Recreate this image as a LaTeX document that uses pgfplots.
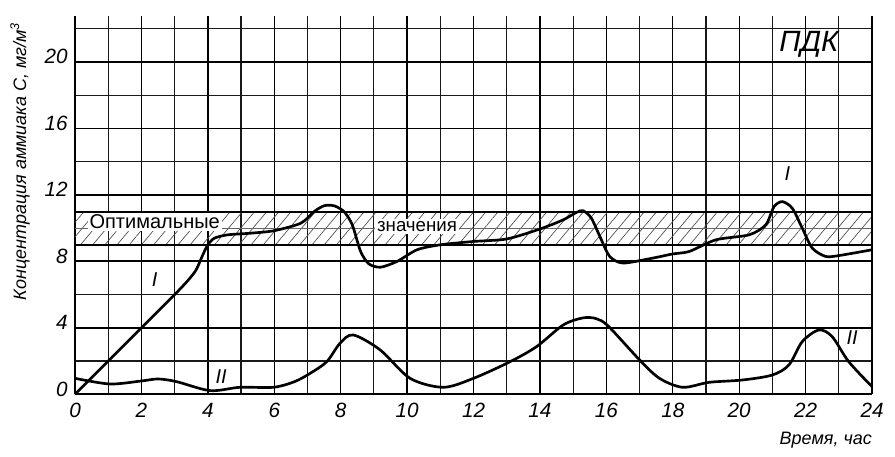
\documentclass[border=0pt]{standalone}
\usepackage{pgfplots}
\pgfplotsset{compat=1.18}
\usepackage{fontspec}
\setmainfont{Liberation Sans}
\usetikzlibrary{patterns.meta}
\begin{document}
\begin{tikzpicture}
\begin{axis}[
  at={(0,0)}, anchor=south west,
  scale only axis, width=597.75pt, height=284pt,
  xmin=0, xmax=24, ymin=0, ymax=22.8,
  axis x line=bottom, axis y line=left,
  axis line style={-, line width=1.5pt},
  xtick={0,2,...,24}, minor xtick={1,3,...,23},
  ytick={0,4,...,20}, minor ytick={2,6,...,22},
  major tick length=0pt, minor tick length=0pt,
  grid=both,
  major grid style={black, line width=1.0pt},
  minor grid style={black!90, line width=0.9pt},
  /pgf/number format/assume math mode=true,
  ticklabel style={font=\fontsize{15.5pt}{17pt}\selectfont\itshape},
  xticklabel style={yshift=-3pt},
  yticklabel style={xshift=-2pt, yshift=4pt},
  ylabel={Концентрация аммиака С, мг/м\textsuperscript{3}},
  ylabel style={at={(axis description cs:-0.069,0.615)}, anchor=center, font=\fontsize{13.5pt}{15pt}\selectfont\itshape},
  xlabel={Время, час},
  xlabel style={at={(axis description cs:0.942,-0.12)}, anchor=center, font=\fontsize{13.5pt}{15pt}\selectfont\itshape},
  clip=false,
]
% hatched optimal band
\fill[pattern={Lines[angle=50, distance=7pt, line width=0.5pt]}, pattern color=black!70] (axis cs:0,9) rectangle (axis cs:24,11);
\draw[line width=1.0pt, black!60] (axis cs:0,10) -- (axis cs:24,10);
% thick horizontal lines
\draw[line width=1.5pt] (axis cs:0,8) -- (axis cs:24,8);
\draw[line width=1.5pt] (axis cs:0,9) -- (axis cs:24,9);
\draw[line width=1.5pt] (axis cs:0,11) -- (axis cs:24,11);
\draw[line width=1.5pt] (axis cs:0,12) -- (axis cs:24,12);
\draw[line width=1.5pt] (axis cs:0,20) -- (axis cs:24,20);
\draw[line width=1.5pt] (axis cs:24,0) -- (axis cs:24,22.8);
\node[fill=white, inner sep=1.5pt, font=\fontsize{15pt}{17pt}\selectfont] at (axis cs:2.4,10.37) {Оптимальные};
\node[fill=white, inner sep=1.5pt, font=\fontsize{14pt}{16pt}\selectfont] at (axis cs:10.3,10.1) {значения};
\node[font=\fontsize{22pt}{24pt}\selectfont\itshape] at (axis cs:22.1,21.04) {ПДК};
\node[font=\fontsize{15pt}{16pt}\selectfont\itshape] at (axis cs:2.4,6.9) {I};
\node[font=\fontsize{15pt}{16pt}\selectfont\itshape] at (axis cs:21.45,13.3) {I};
\node[font=\fontsize{15pt}{16pt}\selectfont\itshape] at (axis cs:4.4,1.06) {II};
\node[font=\fontsize{15pt}{16pt}\selectfont\itshape] at (axis cs:23.4,3.4) {II};
% curve I
\addplot[black, line width=2pt, smooth, tension=0.45] coordinates {
(0,0) (1,2) (2,4) (3,6) (3.4,6.85) (3.65,7.5) (3.85,8.4) (4.0,9.0) (4.2,9.4) (4.6,9.6)
(5.3,9.7) (6.0,9.85) (6.8,10.3) (7.2,11.0) (7.5,11.35) (7.8,11.35) (8.1,11.0) (8.35,10.2)
(8.6,8.6) (8.85,7.85) (9.2,7.65) (9.7,8.0) (10.3,8.7) (11.0,9.0) (12.0,9.2)
(13.0,9.35) (14.0,9.95) (14.7,10.5) (15.1,10.95) (15.3,11.05) (15.55,10.6) (15.85,9.3)
(16.1,8.3) (16.5,7.9) (17.4,8.2) (18.0,8.45) (18.5,8.6) (19.3,9.3) (20.3,9.6)
(20.8,10.2) (21.05,11.3) (21.3,11.6) (21.6,11.2) (21.9,10.0) (22.2,8.8)
(22.6,8.3) (23.0,8.35) (24.0,8.7)
};
% curve II
\addplot[black, line width=2pt, smooth, tension=0.5] coordinates {
(0,0.96) (1.05,0.62) (2.0,0.8) (2.5,0.92) (3.06,0.76) (4.07,0.22) (4.97,0.42)
(5.97,0.42) (6.6,0.75) (7.08,1.26) (7.58,1.96) (7.98,3.07) (8.38,3.57)
(9.19,2.67) (10.09,0.96) (11.09,0.42) (12.0,0.96) (13.1,1.96) (13.9,2.87)
(14.7,4.17) (15.3,4.6) (15.7,4.55) (16.06,4.1) (17.0,2.07) (17.6,0.96)
(18.3,0.42) (19.1,0.72) (20.1,0.86) (21.0,1.16) (21.5,1.77) (21.9,3.17)
(22.4,3.87) (22.8,3.47) (23.3,1.96) (24.0,0.46)
};
\end{axis}
\pgfresetboundingbox
\path[use as bounding box] (-56.25pt,-47pt) rectangle (615pt,295.7pt);
\end{tikzpicture}
\end{document}
